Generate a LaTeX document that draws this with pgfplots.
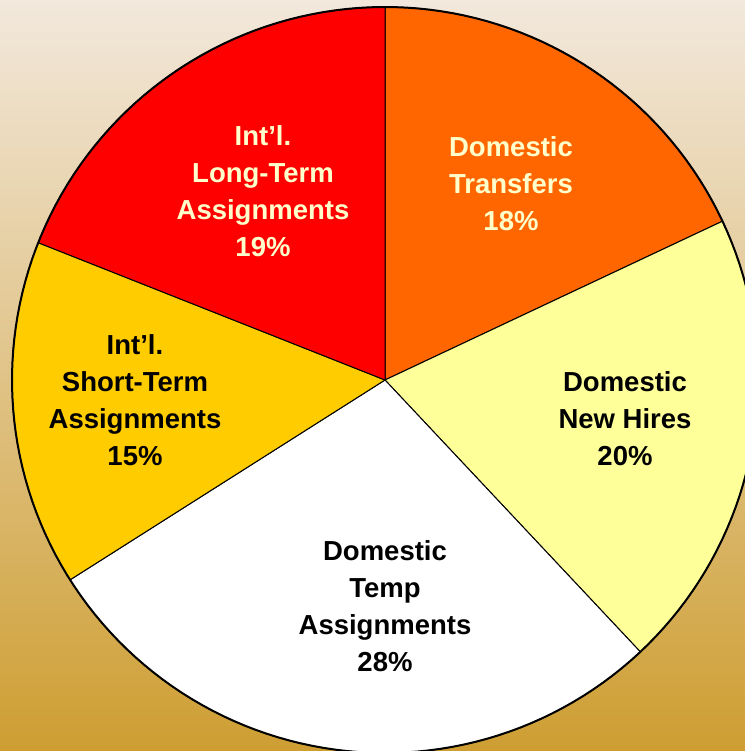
\documentclass[border=0pt]{standalone}
\usepackage{pgfplots}
\pgfplotsset{compat=1.18}
\usepackage{fontspec}
\setmainfont{Liberation Sans}
\usetikzlibrary{shadings}
\definecolor{bgtop}{HTML}{F2E8DC}
\definecolor{bgbot}{HTML}{CE9E32}
\definecolor{sred}{HTML}{FF0000}
\definecolor{sorange}{HTML}{FF6600}
\definecolor{syellow}{HTML}{FFFF99}
\definecolor{sgold}{HTML}{FFCC00}
\definecolor{ltext}{HTML}{FFFFCC}
\newcommand{\ap}{{\char"27}}
% Shares (%): Domestic Transfers 18, Domestic New Hires 20, Domestic Temp 28,
% Int'l Short-Term 15, Int'l Long-Term 19 -- clockwise from 90 degrees (3.6 deg per %)
\begin{document}
\begin{tikzpicture}
\begin{axis}[width=745bp,height=751bp,scale only axis,hide axis,
  xmin=0,xmax=745,ymin=0,ymax=751,clip=true]
\fill[top color=bgtop,bottom color=bgbot] (axis cs:0,0) rectangle (axis cs:745,751);
% Domestic Transfers 18%
\addplot[fill=sorange,draw=black,line width=1bp,domain=25.2:90,samples=60]
  ({385+373*cos(x)},{371+373*sin(x)}) -- (axis cs:385,371) -- cycle;
% Domestic New Hires 20%
\addplot[fill=syellow,draw=black,line width=1bp,domain=-46.8:25.2,samples=60]
  ({385+373*cos(x)},{371+373*sin(x)}) -- (axis cs:385,371) -- cycle;
% Domestic Temp 28%
\addplot[fill=white,draw=black,line width=1bp,domain=-147.6:-46.8,samples=80]
  ({385+373*cos(x)},{371+373*sin(x)}) -- (axis cs:385,371) -- cycle;
% Int'l Short-Term 15%
\addplot[fill=sgold,draw=black,line width=1bp,domain=-201.6:-147.6,samples=50]
  ({385+373*cos(x)},{371+373*sin(x)}) -- (axis cs:385,371) -- cycle;
% Int'l Long-Term 19%
\addplot[fill=sred,draw=black,line width=1bp,domain=-270:-201.6,samples=60]
  ({385+373*cos(x)},{371+373*sin(x)}) -- (axis cs:385,371) -- cycle;
% outline
\addplot[draw=black,line width=2bp,domain=0:360,samples=200]
  ({385+373*cos(x)},{371+373*sin(x)});
\begin{scope}[every node/.style={align=center,font=\fontsize{27.5bp}{37bp}\selectfont\bfseries}]
\node[text=ltext] at (axis cs:263,560) {Int\ap l.\\Long-Term\\Assignments\\19\%};
\node[text=ltext] at (axis cs:511,567) {Domestic\\Transfers\\18\%};
\node[text=black] at (axis cs:625,332) {Domestic\\New Hires\\20\%};
\node[text=black] at (axis cs:385,145) {Domestic\\Temp\\Assignments\\28\%};
\node[text=black] at (axis cs:135,351) {Int\ap l.\\Short-Term\\Assignments\\15\%};
\end{scope}
\end{axis}
\end{tikzpicture}
\end{document}
